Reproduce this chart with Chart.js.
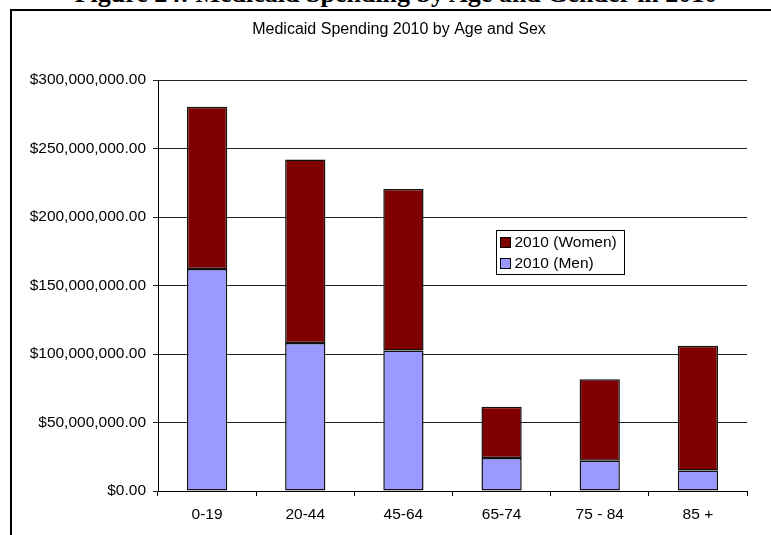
<!DOCTYPE html>
<html><head><meta charset="utf-8">
<script src="https://cdn.jsdelivr.net/npm/chart.js@4"></script>
<style>
html,body{margin:0;padding:0;background:#fff;overflow:hidden;}
#wrap{position:relative;width:771px;height:535px;overflow:hidden;}
#cap{position:absolute;left:0;width:792px;top:-19px;text-align:center;font-weight:bold;font-size:26px;font-family:"Liberation Serif","Times New Roman",serif;line-height:26px;white-space:nowrap;color:#000;}
#frame{position:absolute;left:10px;top:9px;right:-5px;bottom:-5px;border-left:2px solid #000;border-top:2px solid #000;}
canvas{position:absolute;left:0;top:0;}
</style></head>
<body><div id="wrap"><div id="cap">Figure 24: Medicaid Spending by Age and Gender in 2010</div><div id="frame"></div><canvas id="c" width="771" height="535"></canvas></div>
<script>
const chartTitle = 'Medicaid Spending 2010 by Age and Sex';
const categories = ['0-19', '20-44', '45-64', '65-74', '75 - 84', '85 +'];
const menValues = [162000000, 108000000, 102500000, 24000000, 22000000, 15000000];
const womenValues = [118500000, 134000000, 118000000, 37500000, 59500000, 91000000];
const yTicks = [0, 50000000, 100000000, 150000000, 200000000, 250000000, 300000000];
const seriesLabels = ['2010 (Men)', '2010 (Women)'];

const FONT = '"Liberation Sans", Arial, sans-serif';

const titlePlugin = {
  id: 'customTitle',
  afterDraw(chart) {
    const ctx = chart.ctx;
    ctx.save();
    ctx.fillStyle = '#000';
    ctx.font = '16px ' + FONT;
    ctx.textAlign = 'center';
    ctx.textBaseline = 'middle';
    ctx.fillText(chartTitle, 399, 30);
    ctx.restore();
  }
};

const legendPlugin = {
  id: 'customLegend',
  afterDraw(chart) {
    const ctx = chart.ctx;
    const ca = chart.chartArea;
    const x0 = Math.round(ca.left + 338) + 0.5;
    const y0 = Math.round(ca.top + 150) + 0.5;
    const w = 128, h = 44;
    ctx.save();
    ctx.fillStyle = '#fff';
    ctx.fillRect(x0, y0, w, h);
    ctx.strokeStyle = '#000';
    ctx.lineWidth = 1;
    ctx.strokeRect(x0, y0, w, h);
    const ds = chart.data.datasets.slice().reverse();
    ctx.font = '15.5px ' + FONT;
    ctx.textBaseline = 'middle';
    ctx.textAlign = 'left';
    ds.forEach((d, i) => {
      const cy = y0 + 12 + i * 21;
      ctx.fillStyle = d.backgroundColor;
      ctx.fillRect(x0 + 4, cy - 5, 10, 10);
      ctx.strokeStyle = '#000';
      ctx.strokeRect(x0 + 4, cy - 5, 10, 10);
      ctx.fillStyle = '#000';
      ctx.fillText(d.label, x0 + 18, cy + 0.5);
    });
    ctx.restore();
  }
};

new Chart(document.getElementById('c').getContext('2d'), {
  type: 'bar',
  data: {
    labels: categories,
    datasets: [
      { label: seriesLabels[0], data: menValues, backgroundColor: '#9999FF', borderColor: '#111', borderWidth: 1.5, borderSkipped: false, barPercentage: 0.41, categoryPercentage: 1 },
      { label: seriesLabels[1], data: womenValues, backgroundColor: '#800000', borderColor: '#111', borderWidth: 1.5, borderSkipped: false, barPercentage: 0.41, categoryPercentage: 1 }
    ]
  },
  options: {
    responsive: false,
    animation: false,
    devicePixelRatio: 1,
    layout: { padding: { top: 80, right: 24, bottom: 0, left: 0 } },
    plugins: { legend: { display: false }, title: { display: false }, tooltip: { enabled: false } },
    scales: {
      x: {
        stacked: true,
        offset: true,
        grid: { offset: true, drawOnChartArea: false, drawTicks: true, tickLength: 5, color: '#000' },
        border: { color: '#000', width: 1 },
        ticks: { color: '#000', font: { family: FONT, size: 15.5 }, padding: 9, maxRotation: 0, autoSkip: false },
        afterFit(s) { s.height = 44; }
      },
      y: {
        stacked: true,
        min: 0,
        max: 300000000,
        afterBuildTicks(s) { s.ticks = yTicks.map(v => ({ value: v })); },
        ticks: {
          color: '#000', padding: 7, font: { family: FONT, size: 15.5 },
          callback: v => '$' + Number(v).toLocaleString('en-US', { minimumFractionDigits: 2, maximumFractionDigits: 2 })
        },
        grid: { color: '#222', tickLength: 5 },
        border: { color: '#000', width: 1 },
        afterFit(s) { s.width = 158; }
      }
    }
  },
  plugins: [titlePlugin, legendPlugin]
});
</script>
</body></html>
